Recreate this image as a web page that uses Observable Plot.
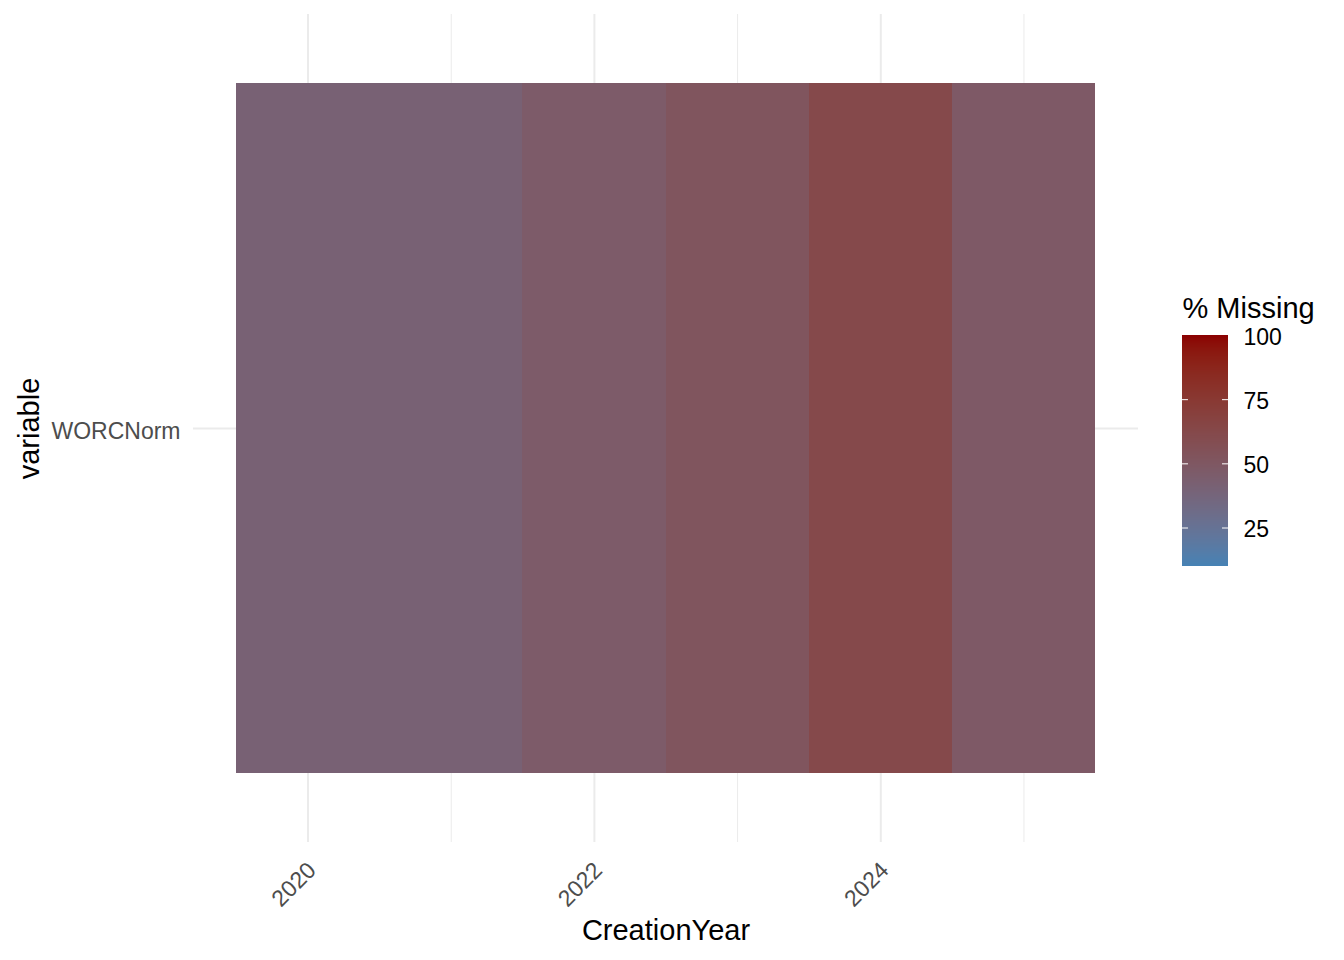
<!DOCTYPE html>
<html>
<head>
<meta charset="utf-8">
<script src="https://cdn.jsdelivr.net/npm/d3@7"></script>
<script src="https://cdn.jsdelivr.net/npm/@observablehq/plot@0.6"></script>
<style>
  html, body { margin: 0; padding: 0; background: #fff; }
  #wrap { position: relative; width: 1344px; height: 960px; font-family: "Liberation Sans", Arial, sans-serif; }
  #legend { position: absolute; left: 1170px; top: 280px; }
</style>
</head>
<body>
<div id="wrap"><div id="main"></div><div id="legend"></div></div>
<script>
// Data
const variables = ["WORCNorm"];
const years = [2020, 2021, 2022, 2023, 2024, 2025];
const pctMissing = [41, 41, 46.5, 52, 62, 48];
const majorYears = [2020, 2022, 2024];
const minorYears = [2021, 2023, 2025];
const legendTicks = [25, 50, 75, 100];
const colorDomain = [10, 100];

const rows = years.map((y, i) => ({CreationYear: y, variable: variables[0], value: pctMissing[i]}));

const colorOpts = {type: "linear", domain: colorDomain, range: ["steelblue", "darkred"], interpolate: "lab"};
const font = "Liberation Sans, Arial, sans-serif";

const main = Plot.plot({
  width: 1344,
  height: 960,
  marginLeft: 193,
  marginRight: 206,
  marginTop: 14,
  marginBottom: 118,
  style: {fontFamily: font, background: "white"},
  x: {type: "linear", domain: [2019.2, 2025.8]},
  y: {type: "band", domain: variables, paddingInner: 0, paddingOuter: 0.1},
  color: colorOpts,
  marks: [
    Plot.ruleX(majorYears, {stroke: "#EBEBEB", strokeWidth: 2}),
    Plot.ruleX(minorYears, {stroke: "#EBEBEB", strokeWidth: 1}),
    Plot.ruleY(variables, {stroke: "#EBEBEB", strokeWidth: 2}),
    Plot.barX(rows, {x1: d => d.CreationYear - 0.5, x2: d => d.CreationYear + 0.5, y: "variable", fill: "value", inset: 0, shapeRendering: "crispEdges"}),
    Plot.axisX(majorYears, {tickRotate: -45, tickSize: 0, tickPadding: 10, dx: 4, dy: 14, fontSize: 23, fill: "#4D4D4D", label: null, tickFormat: d => String(d)}),
    Plot.axisY({tickSize: 0, tickPadding: 13, dy: 3, fontSize: 23, fill: "#4D4D4D", label: null}),
    Plot.text(["CreationYear"], {frameAnchor: "bottom", dy: 97, fontSize: 29, fill: "black"}),
    Plot.text(["variable"], {frameAnchor: "left", textAnchor: "middle", dx: -164, rotate: -90, fontSize: 29, fill: "black"})
  ]
});
document.getElementById("main").appendChild(main);

const stops = d3.range(colorDomain[0], colorDomain[1], 0.25);
const legend = Plot.plot({
  width: 174,
  height: 300,
  marginLeft: 12,
  marginRight: 116,
  marginTop: 55,
  marginBottom: 14,
  style: {fontFamily: font, background: "transparent", overflow: "visible"},
  x: {domain: [0, 1], axis: null},
  y: {domain: colorDomain, axis: null},
  color: colorOpts,
  marks: [
    Plot.rect(stops, {x1: 0, x2: 1, y1: d => d, y2: d => Math.min(d + 0.3, colorDomain[1]), fill: d => d, shapeRendering: "crispEdges"}),
    Plot.ruleY(legendTicks.filter(d => d < 100), {x1: 0, x2: 0.13, stroke: "white", strokeWidth: 1}),
    Plot.ruleY(legendTicks.filter(d => d < 100), {x1: 0.87, x2: 1, stroke: "white", strokeWidth: 1}),
    Plot.text(legendTicks, {x: 1, y: d => d, dx: 15, dy: 2, textAnchor: "start", fontSize: 23, fill: "black", text: d => String(d)}),
    Plot.text(["% Missing"], {x: 0, y: 100, dy: -27, textAnchor: "start", fontSize: 29, fill: "black"})
  ]
});
document.getElementById("legend").appendChild(legend);
</script>
</body>
</html>
